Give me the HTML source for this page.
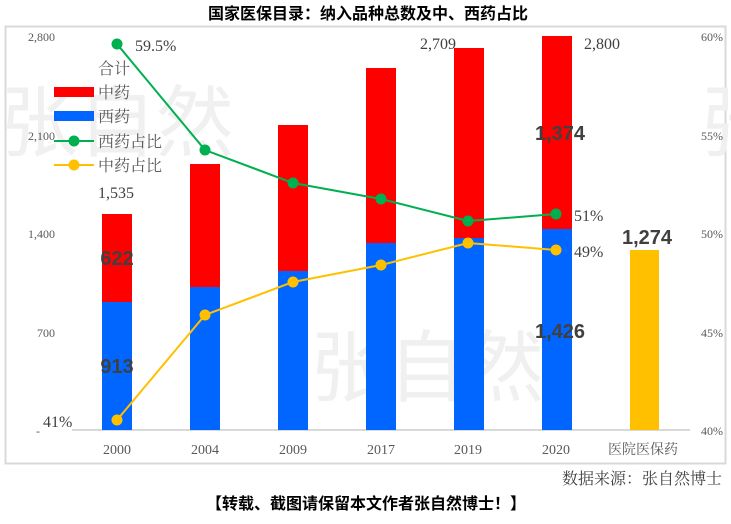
<!DOCTYPE html>
<html><head><meta charset="utf-8"><style>
body{margin:0;background:#fff;width:731px;height:519px;overflow:hidden}
svg text{font-family:"Liberation Serif","Noto Serif CJK SC",serif}
svg .b, svg .b text{font-family:"Liberation Sans","Noto Sans CJK SC",sans-serif;font-weight:bold}
svg .w text{font-family:"Noto Sans CJK SC",sans-serif}
</style></head><body>
<svg width="731" height="519" xmlns="http://www.w3.org/2000/svg">
<text x="368" y="19" text-anchor="middle" class="b" font-size="16" fill="#000">国家医保目录：纳入品种总数及中、西药占比</text>
<rect x="5.5" y="26.5" width="720" height="437" fill="#fff" stroke="#d9d9d9" stroke-width="2"/>
<g class="w" fill="#f0f0f0">
<text x="310" y="395" font-size="78">张自然</text>
<text x="0" y="150" font-size="78">张自然</text>
<text x="700" y="150" font-size="78">张</text>
</g>
<line x1="72" y1="430" x2="690" y2="430" stroke="#d9d9d9" stroke-width="2"/>
<g font-size="12" fill="#595959" text-anchor="end">
<text x="55" y="41">2,800</text><text x="55" y="140">2,100</text><text x="55" y="238">1,400</text><text x="55" y="337">700</text><text x="40" y="435">-</text>
</g>
<g font-size="12" fill="#595959" text-anchor="end">
<text x="723" y="41">60%</text><text x="723" y="140">55%</text><text x="723" y="238">50%</text><text x="723" y="337">45%</text><text x="723" y="435">40%</text>
</g>
<g fill="#0066ff">
<rect x="102" y="302" width="30" height="128"/><rect x="190" y="287" width="30" height="143"/><rect x="278" y="271" width="30" height="159"/><rect x="366" y="243" width="30" height="187"/><rect x="454" y="238" width="30" height="192"/><rect x="542" y="229" width="30" height="201"/>
</g>
<g fill="#ff0000">
<rect x="102" y="214" width="30" height="88"/><rect x="190" y="164" width="30" height="123"/><rect x="278" y="125" width="30" height="146"/><rect x="366" y="68" width="30" height="175"/><rect x="454" y="48" width="30" height="190"/><rect x="542" y="36" width="30" height="193"/>
</g>
<rect x="630" y="250" width="29" height="180" fill="#ffc000"/>
<polyline points="117,44 205,150 293,183 381,199 468,221 556,214" fill="none" stroke="#00b050" stroke-width="2"/>
<polyline points="117,420 205,315 293,282 381,265 468,243 556,250" fill="none" stroke="#ffc000" stroke-width="2"/>
<g fill="#00b050"><circle cx="117" cy="44" r="5.5"/><circle cx="205" cy="150" r="5.5"/><circle cx="293" cy="183" r="5.5"/><circle cx="381" cy="199" r="5.5"/><circle cx="468" cy="221" r="5.5"/><circle cx="556" cy="214" r="5.5"/></g>
<g fill="#ffc000"><circle cx="117" cy="420" r="5.5"/><circle cx="205" cy="315" r="5.5"/><circle cx="293" cy="282" r="5.5"/><circle cx="381" cy="265" r="5.5"/><circle cx="468" cy="243" r="5.5"/><circle cx="556" cy="250" r="5.5"/></g>
<g font-size="16" fill="#404040">
<text x="135" y="51">59.5%</text><text x="98" y="198">1,535</text><text x="420" y="49">2,709</text><text x="584" y="49">2,800</text>
<text x="574" y="221">51%</text><text x="574" y="257">49%</text><text x="43" y="427">41%</text>
</g>
<g class="b" font-size="20" fill="#404040" text-anchor="middle">
<text x="117" y="265">622</text><text x="117" y="373">913</text><text x="560" y="140">1,374</text><text x="560" y="338">1,426</text><text x="647" y="244">1,274</text>
</g>
<g font-size="14" fill="#595959" text-anchor="middle">
<text x="117" y="454">2000</text><text x="205" y="454">2004</text><text x="293" y="454">2009</text><text x="381" y="454">2017</text><text x="468" y="454">2019</text><text x="556" y="454">2020</text><text x="643" y="454">医院医保药</text>
</g>
<g font-size="16" fill="#595959">
<text x="98" y="74">合计</text>
<rect x="54" y="87" width="40" height="10" fill="#ff0000"/><text x="98" y="98">中药</text>
<rect x="54" y="111" width="40" height="10" fill="#0066ff"/><text x="98" y="122">西药</text>
<line x1="54" y1="141" x2="94" y2="141" stroke="#00b050" stroke-width="2"/><circle cx="74" cy="141" r="5.5" fill="#00b050"/><text x="98" y="147">西药占比</text>
<line x1="54" y1="165" x2="94" y2="165" stroke="#ffc000" stroke-width="2"/><circle cx="74" cy="165" r="5.5" fill="#ffc000"/><text x="98" y="171">中药占比</text>
</g>
<text x="722" y="484" text-anchor="end" font-size="16" fill="#404040">数据来源：张自然博士</text>
<text x="366" y="509" text-anchor="middle" class="b" font-size="16" fill="#000">【转载、截图请保留本文作者张自然博士！】</text>
</svg>
</body></html>
